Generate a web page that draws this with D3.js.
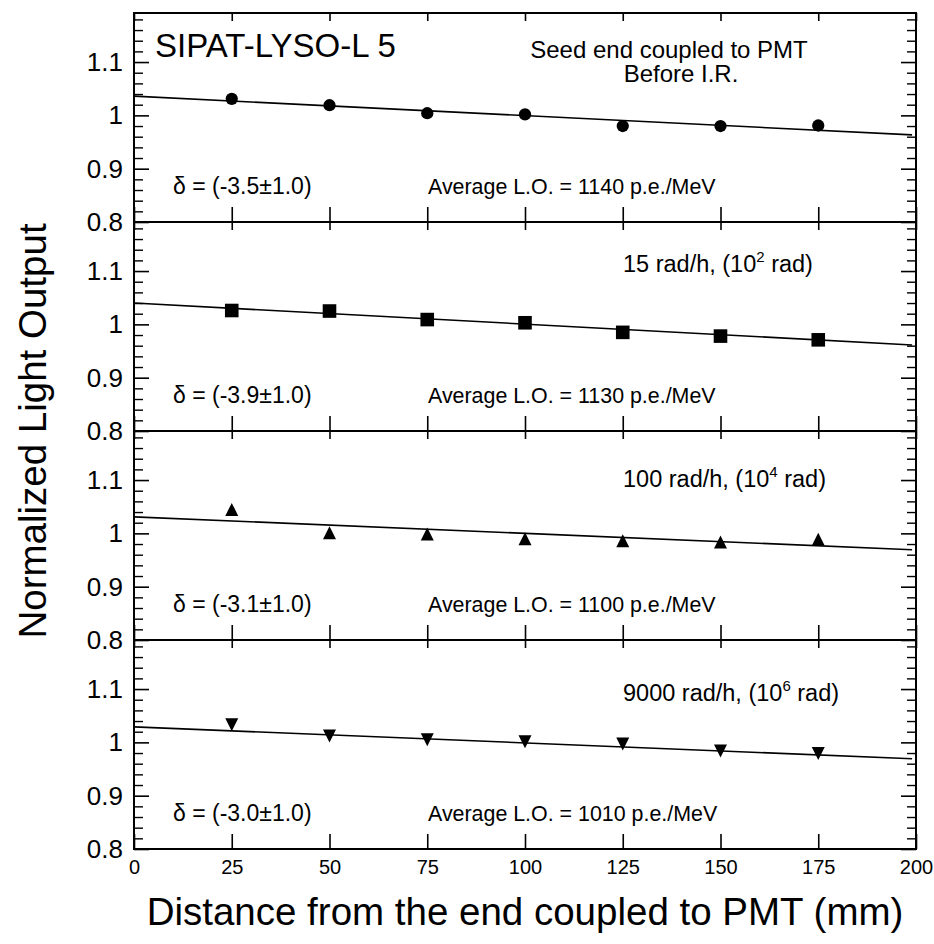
<!DOCTYPE html>
<html>
<head>
<meta charset="utf-8">
<script src="https://cdn.jsdelivr.net/npm/d3@7"></script>
<style>
  body { margin: 0; background: #fff; }
  text { font-family: "Liberation Sans", Arial, Helvetica, sans-serif; fill: #000; }
</style>
</head>
<body>
<div class="chart"></div>
<script>
// distance from PMT end (mm)
var positions = [25, 50, 75, 100, 125, 150, 175];

// normalized light output, one array per irradiation step
var beforeIR = [1.031, 1.019, 1.004, 1.002, 0.980, 0.980, 0.981];
var rate15 = [1.026, 1.025, 1.009, 1.003, 0.985, 0.978, 0.971];
var rate100 = [1.045, 1.001, 0.999, 0.990, 0.986, 0.984, 0.989];
var rate9000 = [1.033, 1.012, 1.005, 1.001, 0.997, 0.984, 0.979];

// linear fit, value at 0 mm and at 200 mm
var fitStart = [1.036, 1.040, 1.031, 1.029];
var fitEnd = [0.963, 0.961, 0.969, 0.969];

var deltas = ['-3.5', '-3.9', '-3.1', '-3.0'];
var deltaErr = '1.0';
var avgLO = [1140, 1130, 1100, 1010];
var rates = ['15 rad/h', '100 rad/h', '9000 rad/h'];
var doseExp = ['2', '4', '6'];

var xTicks = [0, 25, 50, 75, 100, 125, 150, 175, 200];
var yMajor = [0.8, 0.9, 1, 1.1];

var series = [beforeIR, rate15, rate100, rate9000];

var W = 934, H = 944;
var plotLeft = 134, plotRight = 916, plotTop = 13, panelH = 209;

var svg = d3.select('.chart')
  .append('svg')
    .attr('width', W)
    .attr('height', H);

var x = d3.scaleLinear().domain([0, 200]).range([plotLeft, plotRight]);

// triangle markers centred on their bounding box
var triUp = {
  draw: function(ctx, s) {
    ctx.moveTo(0, -s / 2);
    ctx.lineTo(s / 2, s / 2);
    ctx.lineTo(-s / 2, s / 2);
    ctx.closePath();
  }
};
var triDown = {
  draw: function(ctx, s) {
    ctx.moveTo(0, s / 2);
    ctx.lineTo(s / 2, -s / 2);
    ctx.lineTo(-s / 2, -s / 2);
    ctx.closePath();
  }
};
var markers = [
  d3.symbol().type(d3.symbolCircle).size(118),
  d3.symbol().type(d3.symbolSquare).size(185),
  d3.symbol().type(triUp).size(13),
  d3.symbol().type(triDown).size(13)
];

var minor = d3.range(0.82, 1.19, 0.02).filter(function(v) {
  return Math.abs(v * 10 - Math.round(v * 10)) > 0.01;
});

function clean(a, w) {
  a.select('.domain').remove();
  a.selectAll('line').attr('stroke-width', w);
}

series.forEach(function(vals, i) {
  var pTop = plotTop + i * panelH;
  var pBot = pTop + panelH;
  var y = d3.scaleLinear().domain([0.8, 1.192]).range([pBot, pTop]);
  var g = svg.append('g');

  // y axis major ticks + labels
  g.append('g')
    .attr('transform', 'translate(' + plotLeft + ',0)')
    .call(d3.axisLeft(y).tickValues(yMajor).tickSize(-15).tickPadding(11)
      .tickFormat(d3.format('~g')))
    .call(function(a) {
      clean(a, 1.6);
      a.selectAll('text').attr('font-size', 26).attr('font-family', null);
    });
  g.append('g')
    .attr('transform', 'translate(' + plotLeft + ',0)')
    .call(d3.axisLeft(y).tickValues(minor).tickSize(-9).tickFormat(''))
    .call(clean, 1.4);
  g.append('g')
    .attr('transform', 'translate(' + plotRight + ',0)')
    .call(d3.axisRight(y).tickValues(yMajor).tickSize(-15).tickFormat(''))
    .call(clean, 1.6);
  g.append('g')
    .attr('transform', 'translate(' + plotRight + ',0)')
    .call(d3.axisRight(y).tickValues(minor).tickSize(-9).tickFormat(''))
    .call(clean, 1.4);

  // x ticks: short ones hanging from the top, long ones rising from the bottom
  g.append('g')
    .attr('transform', 'translate(0,' + pTop + ')')
    .call(d3.axisTop(x).tickValues(xTicks).tickSize(-8).tickFormat(''))
    .call(clean, 1.6);
  var xb = d3.axisBottom(x).tickValues(xTicks).tickSize(-15).tickPadding(11);
  if (i < 3) xb.tickFormat('');
  g.append('g')
    .attr('transform', 'translate(0,' + pBot + ')')
    .call(xb)
    .call(function(a) {
      clean(a, 1.6);
      a.selectAll('text').attr('font-size', 20).attr('font-family', null);
    });

  // panel divider
  g.append('line')
    .attr('x1', plotLeft).attr('x2', plotRight)
    .attr('y1', pBot).attr('y2', pBot)
    .attr('stroke', '#000').attr('stroke-width', 2);

  // fit line
  g.append('line')
    .attr('x1', x(0)).attr('y1', y(fitStart[i]))
    .attr('x2', x(199)).attr('y2', y(fitStart[i] + (fitEnd[i] - fitStart[i]) * 199 / 200))
    .attr('stroke', '#000').attr('stroke-width', 1.6);

  // markers
  g.selectAll('.pt')
    .data(vals)
    .enter()
    .append('path')
      .attr('class', 'pt')
      .attr('d', markers[i])
      .attr('transform', function(d, j) {
        return 'translate(' + x(positions[j]) + ',' + y(d) + ')';
      })
      .attr('fill', '#000');

  // annotations
  g.append('text')
    .attr('x', 173).attr('y', y(0.853))
    .attr('font-size', 23)
    .text('\u03b4 = (' + deltas[i] + '\u00b1' + deltaErr + ')');
  g.append('text')
    .attr('x', 428).attr('y', y(0.853))
    .attr('font-size', 21.4)
    .text('Average L.O. = ' + avgLO[i] + ' p.e./MeV');

  if (i > 0) {
    var ly = [1.099, 1.087, 1.078][i - 1];
    var t = g.append('text')
      .attr('x', 623).attr('y', y(ly))
      .attr('font-size', 23.5);
    t.append('tspan').text(rates[i - 1] + ', (10');
    t.append('tspan').attr('dy', -10).attr('font-size', 15).text(doseExp[i - 1]);
    t.append('tspan').attr('dy', 10).text(' rad)');
  }
});

// top panel titles
svg.append('text')
  .attr('x', 155).attr('y', 57)
  .attr('font-size', 33)
  .text('SIPAT-LYSO-L 5');
svg.append('text')
  .attr('x', 669).attr('y', 58)
  .attr('text-anchor', 'middle')
  .attr('font-size', 24)
  .text('Seed end coupled to PMT');
svg.append('text')
  .attr('x', 681).attr('y', 82)
  .attr('text-anchor', 'middle')
  .attr('font-size', 24)
  .text('Before I.R.');

// frame
svg.append('rect')
  .attr('x', plotLeft).attr('y', plotTop)
  .attr('width', plotRight - plotLeft).attr('height', panelH * 4)
  .attr('fill', 'none')
  .attr('stroke', '#000')
  .attr('stroke-width', 2);

// axis titles
svg.append('text')
  .attr('transform', 'translate(46,' + (plotTop + panelH * 2) + ') rotate(-90)')
  .attr('text-anchor', 'middle')
  .attr('font-size', 38.5)
  .text('Normalized Light Output');
svg.append('text')
  .attr('x', (plotLeft + plotRight) / 2).attr('y', 925)
  .attr('text-anchor', 'middle')
  .attr('font-size', 38.5)
  .text('Distance from the end coupled to PMT (mm)');
</script>
</body>
</html>
